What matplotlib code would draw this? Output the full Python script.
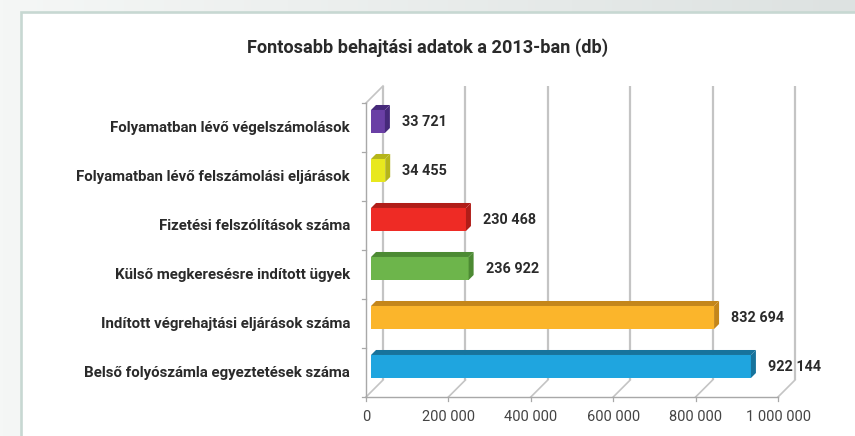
import numpy as np
import matplotlib
matplotlib.use("Agg")
import matplotlib.pyplot as plt
from matplotlib.patches import Rectangle, Polygon
from matplotlib.colors import to_rgb

# ---------------- data ----------------
title = "Fontosabb behajtási adatok a 2013-ban (db)"
categories = [
    "Belső folyószámla egyeztetések száma",
    "Indított végrehajtási eljárások száma",
    "Külső megkeresésre indított ügyek",
    "Fizetési felszólítások száma",
    "Folyamatban lévő felszámolási eljárások",
    "Folyamatban lévő végelszámolások",
]
values = [922144, 832694, 236922, 230468, 34455, 33721]
value_labels = ["922 144", "832 694", "236 922", "230 468", "34 455", "33 721"]
xticks = [0, 200000, 400000, 600000, 800000, 1000000]
xtick_labels = ["0", "200 000", "400 000", "600 000", "800 000", "1 000 000"]
bar_colors = ["#1fa5df", "#fbb52b", "#6db54b", "#ee2b25", "#e8e81e", "#6a3fa5"]
side_colors = ["#17739c", "#c4861a", "#4c8a33", "#b01d18", "#b5b51a", "#46297a"]

FONT = "Roboto"
TXT = "#2a2a2a"

W, H = 855, 436
fig = plt.figure(figsize=(W / 100, H / 100), dpi=100)

# ---------------- background ----------------
bg = fig.add_axes([0, 0, 1, 1])
bg.set_xlim(0, W)
bg.set_ylim(H, 0)
bg.axis("off")
c1 = np.array(to_rgb("#f5f7f6"))
c2 = np.array(to_rgb("#dde2e1"))
t = np.linspace(0, 1, 256)[None, :, None]
grad = c1 + (c2 - c1) * t
bg.imshow(grad, extent=[0, W, H, 0], aspect="auto", zorder=0)
bg.add_patch(Rectangle((21, 12), W, H + 10, facecolor="white",
                       edgecolor="#c7d8d2", lw=1.9, zorder=1))

# ---------------- main chart ----------------
ax = fig.add_axes([366 / W, 39 / H, 412 / W, 294 / H])
ax.set_xlim(0, 1e6)
ax.set_ylim(-0.5, 5.5)
ax.axis("off")
ax.patch.set_visible(False)

px = 1e6 / 412.0
py = 6.0 / 294.0
D = 17
GRID = "#c4c4c4"
AXC = "#a8a8a8"

ylo, yhi = -0.5, 5.5
# back wall gridlines and floor diagonals
for tv in xticks:
    ax.plot([tv + D * px] * 2, [ylo + D * py, yhi + D * py], color=GRID,
            lw=1.6, clip_on=False, zorder=1, solid_capstyle="butt")
    ax.plot([tv, tv + D * px], [ylo, ylo + D * py], color=GRID, lw=1.2,
            clip_on=False, zorder=1)
    ax.plot([tv, tv], [ylo, ylo - 4 * py], color=AXC, lw=0.9, clip_on=False)
    ax.text(tv, ylo - 20 * py, xtick_labels[xticks.index(tv)], ha="center",
            va="center", fontsize=10.5, color="#444444", family=FONT)

# front axes lines
ax.plot([0, 1e6], [ylo, ylo], color=AXC, lw=1.0, clip_on=False, zorder=2)
ax.plot([0, 0], [ylo, yhi], color=AXC, lw=1.0, clip_on=False, zorder=2)
ax.plot([0, D * px], [yhi, yhi + D * py], color=GRID, lw=1.2, clip_on=False, zorder=1)
for b in np.arange(-0.5, 6.0, 1.0):
    ax.plot([-4 * px, 0], [b, b], color=AXC, lw=0.9, clip_on=False)

# bars with pseudo-3D faces
fx, fy, d, h = 5, 6, 5, 0.47
for i, v in enumerate(values):
    y0 = i - h / 2 + fy * py
    x0 = fx * px
    x1 = v + fx * px
    ax.add_patch(Rectangle((x0, y0), v, h, facecolor=bar_colors[i],
                           edgecolor="none", zorder=5, clip_on=False))
    ax.add_patch(Polygon([(x0, y0 + h), (x1, y0 + h),
                          (x1 + d * px, y0 + h + d * py),
                          (x0 + d * px, y0 + h + d * py)],
                         closed=True, facecolor=side_colors[i],
                         edgecolor="none", zorder=5, clip_on=False))
    ax.add_patch(Polygon([(x1, y0), (x1 + d * px, y0 + d * py),
                          (x1 + d * px, y0 + h + d * py), (x1, y0 + h)],
                         closed=True, facecolor=side_colors[i],
                         edgecolor="none", zorder=5, clip_on=False))
    ax.text(v + 22 * px, i + 6 * py, value_labels[i], ha="left", va="center",
            fontsize=10.4, fontweight="bold", color=TXT, family=FONT)
    ax.text(-16 * px, i, categories[i], ha="right", va="center",
            fontsize=10.8, fontweight="bold", color=TXT, family=FONT)

fig.text(428 / W, 1 - 48 / H, title, ha="center", va="center",
         fontsize=13.1, fontweight="bold", color=TXT, family=FONT)

fig.savefig("out.png", dpi=100)
